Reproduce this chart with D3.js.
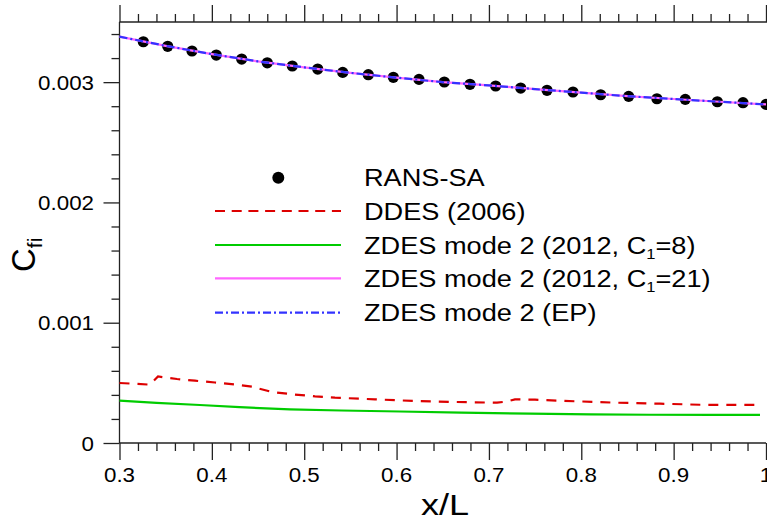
<!DOCTYPE html>
<html>
<head>
<meta charset="utf-8">
<script src="https://cdn.jsdelivr.net/npm/d3@7"></script>
<style>
  html, body { margin: 0; padding: 0; background: #fff; }
  svg { display: block; font-family: "Liberation Sans", Arial, Helvetica, sans-serif; }
</style>
</head>
<body>
<svg id="chart" width="767" height="523"></svg>
<script>
// Skin-friction coefficient along the plate
const xTicks = [0.3, 0.4, 0.5, 0.6, 0.7, 0.8, 0.9, 1.0];
const xTickLabels = ["0.3", "0.4", "0.5", "0.6", "0.7", "0.8", "0.9", "1"];
const yTicks = [0, 0.001, 0.002, 0.003];
const yTickLabels = ["0", "0.001", "0.002", "0.003"];

// RANS-SA reference points
const ransX = [0.3258, 0.3522, 0.3785, 0.4048, 0.4323, 0.4600, 0.4871, 0.5146, 0.5417, 0.5694,
               0.5965, 0.6243, 0.6517, 0.6795, 0.7073, 0.7344, 0.7629, 0.7910, 0.8210, 0.8513,
               0.8819, 0.9126, 0.9473, 0.9751, 1.0];
const ransCf = [0.003336, 0.003298, 0.003259, 0.003225, 0.003192, 0.003161, 0.003134, 0.003109, 0.003081, 0.003062,
                0.003040, 0.003023, 0.003001, 0.002982, 0.002968, 0.002951, 0.002932, 0.002918, 0.002895, 0.002882,
                0.002862, 0.002857, 0.002837, 0.002829, 0.002815];

// DDES (2006)
const ddesX = [0.300, 0.3309, 0.3341, 0.3417, 0.3623, 0.3817, 0.4034, 0.4251, 0.4435, 0.4651, 0.4868,
               0.5117, 0.5333, 0.5766, 0.6200, 0.6633, 0.7088, 0.7196, 0.7282, 0.7499, 0.7932,
               0.8387, 0.8852, 0.9285, 0.9935];
const ddesCf = [0.000499, 0.000486, 0.000495, 0.000553, 0.000532, 0.000518, 0.000503, 0.000486, 0.000468, 0.000424, 0.000405,
                0.000388, 0.000377, 0.000363, 0.000349, 0.000341, 0.000335, 0.000345, 0.000363, 0.000360, 0.000347,
                0.000335, 0.000327, 0.000318, 0.000316];

// ZDES mode 2 (2012, C1=8)
const zdes8X = [0.300, 0.340, 0.387, 0.430, 0.4846, 0.540, 0.6037, 0.670, 0.7445, 0.810, 0.874, 0.940, 0.9935];
const zdes8Cf = [0.000352, 0.000333, 0.000316, 0.000298, 0.000280, 0.000270, 0.000262, 0.000252, 0.000244, 0.000238, 0.000235, 0.000234, 0.000233];

// ZDES mode 2 (2012, C1=21)
const zdes21X = [0.300, 0.350, 0.400, 0.450, 0.500, 0.550, 0.600, 0.650, 0.700, 0.750, 0.800, 0.850, 0.900, 0.950, 1.000];
const zdes21Cf = [0.003378, 0.003302, 0.003233, 0.003172, 0.003123, 0.003077, 0.003037, 0.003000, 0.002973, 0.002942, 0.002913, 0.002883, 0.002860, 0.002837, 0.002815];

// ZDES mode 2 (EP)
const zdesEpX = [0.300, 0.350, 0.400, 0.450, 0.500, 0.550, 0.600, 0.650, 0.700, 0.750, 0.800, 0.850, 0.900, 0.950, 1.000];
const zdesEpCf = [0.003378, 0.003302, 0.003233, 0.003172, 0.003123, 0.003077, 0.003037, 0.003000, 0.002973, 0.002942, 0.002913, 0.002883, 0.002860, 0.002837, 0.002815];

const legendLabels = ["RANS-SA", "DDES (2006)", "ZDES mode 2 (2012, C", "ZDES mode 2 (2012, C", "ZDES mode 2 (EP)"];
const legendSubs = [null, null, ["1", "=8)"], ["1", "=21)"], null];

const svg = d3.select("#chart");
const plot = { left: 119.5, right: 766, top: 22, bottom: 443 };
const x = d3.scaleLinear().domain([0.3, 1.0]).range([plot.left, plot.right]);
const y = d3.scaleLinear().domain([0, 0.0035]).range([plot.bottom, plot.top]);

const axisColor = "#222";
const stretch = 1.09;

function styleAxis(g) {
  g.selectAll("path.domain").attr("stroke", axisColor).attr("stroke-width", 1.3);
  g.selectAll(".tick line").attr("stroke", axisColor).attr("stroke-width", 1.3);
}

// Minor ticks
const xMinor = d3.range(0.3, 1.0001, 0.02).filter(v => Math.abs(v * 10 - Math.round(v * 10)) > 1e-6);
const yMinor = d3.range(0, 0.00350001, 0.0002).filter(v => Math.abs(v * 1000 - Math.round(v * 1000)) > 1e-6);

// Bottom axis
const gx = svg.append("g").attr("transform", `translate(0,${plot.bottom})`);
gx.call(d3.axisBottom(x).tickValues(xTicks).tickSize(17).tickFormat(""));
gx.append("g").call(d3.axisBottom(x).tickValues(xMinor).tickSize(8).tickFormat("")).select("path.domain").remove();
styleAxis(gx);

// Top axis (ticks only)
const gxt = svg.append("g").attr("transform", `translate(0,${plot.top})`);
gxt.call(d3.axisTop(x).tickValues(xTicks).tickSize(17).tickFormat(""));
gxt.append("g").call(d3.axisTop(x).tickValues(xMinor).tickSize(8).tickFormat("")).select("path.domain").remove();
styleAxis(gxt);

// Left axis
const gy = svg.append("g").attr("transform", `translate(${plot.left},0)`);
gy.call(d3.axisLeft(y).tickValues(yTicks).tickSize(16).tickFormat(""));
gy.append("g").call(d3.axisLeft(y).tickValues(yMinor).tickSize(8).tickFormat("")).select("path.domain").remove();
styleAxis(gy);
gy.selectAll("path.domain").attr("d", `M-0,${plot.bottom}V${plot.top}`);
gx.selectAll("path.domain").attr("d", `M${plot.left},0H${plot.right}`);
gxt.selectAll("path.domain").attr("d", `M${plot.left},0H767`);

// Horizontally stretched text helper
function stretchedText(parent, tx, ty, str, size, anchor, sx) {
  return parent.append("text")
    .attr("transform", `translate(${tx},${ty}) scale(${sx},1)`)
    .attr("text-anchor", anchor)
    .attr("font-size", size)
    .attr("fill", "#000")
    .text(str);
}

// Tick labels
xTicks.forEach((v, i) => stretchedText(svg, x(v), 482, xTickLabels[i], 20.5, "middle", stretch));
yTicks.forEach((v, i) => stretchedText(svg, 94, y(v) + 7.5, yTickLabels[i], 20.5, "end", stretch));

// Axis titles
const yt = svg.append("text")
  .attr("transform", `translate(35,272) rotate(-90)`)
  .attr("font-size", 33).attr("fill", "#000");
yt.append("tspan").text("C");
yt.append("tspan").attr("font-size", 21).attr("dy", 7).text("fi");

stretchedText(svg, 445, 515, "x/L", 30, "middle", 1.2);

// Series
const line = d3.line().x(d => x(d[0])).y(d => y(d[1]));
const zip = (a, b) => a.map((v, i) => [v, b[i]]);

svg.append("path").datum(zip(zdes8X, zdes8Cf))
  .attr("d", line).attr("fill", "none").attr("stroke", "#00cc00").attr("stroke-width", 2.2);
svg.append("path").datum(zip(ddesX, ddesCf))
  .attr("d", line).attr("fill", "none").attr("stroke", "#dd0000").attr("stroke-width", 2.2)
  .attr("stroke-dasharray", "10,8");

svg.append("g").selectAll("circle").data(zip(ransX, ransCf)).join("circle")
  .attr("cx", d => x(d[0])).attr("cy", d => y(d[1])).attr("r", 5.6).attr("fill", "#000");

svg.append("path").datum(zip(zdes21X, zdes21Cf))
  .attr("d", line).attr("fill", "none").attr("stroke", "#ff66ff").attr("stroke-width", 2.2);
svg.append("path").datum(zip(zdesEpX, zdesEpCf))
  .attr("d", line).attr("fill", "none").attr("stroke", "#3333ff").attr("stroke-width", 2.2)
  .attr("stroke-dasharray", "8,3,2,3");

// Legend
const legendRows = [177.7, 211, 245, 278.3, 312.7];
const lg = svg.append("g");
lg.append("circle").attr("cx", 278.3).attr("cy", legendRows[0]).attr("r", 6).attr("fill", "#000");
const legendStyles = [
  null,
  { color: "#dd0000", dash: "10,6.7" },
  { color: "#00cc00", dash: null },
  { color: "#ff66ff", dash: null },
  { color: "#3333ff", dash: "8,3,2,3" }
];
legendStyles.forEach((s, i) => {
  if (!s) return;
  lg.append("line").attr("x1", 215).attr("x2", 341).attr("y1", legendRows[i]).attr("y2", legendRows[i])
    .attr("stroke", s.color).attr("stroke-width", 2.2).attr("stroke-dasharray", s.dash);
});
legendLabels.forEach((lab, i) => {
  const t = lg.append("text")
    .attr("transform", `translate(364,${legendRows[i] + 8.6}) scale(1.1,1)`)
    .attr("font-size", 24.7).attr("fill", "#000");
  t.append("tspan").text(lab);
  if (legendSubs[i]) {
    t.append("tspan").attr("font-size", 15).attr("dy", 5).text(legendSubs[i][0]);
    t.append("tspan").attr("dy", -5).text(legendSubs[i][1]);
  }
});
</script>
</body>
</html>
